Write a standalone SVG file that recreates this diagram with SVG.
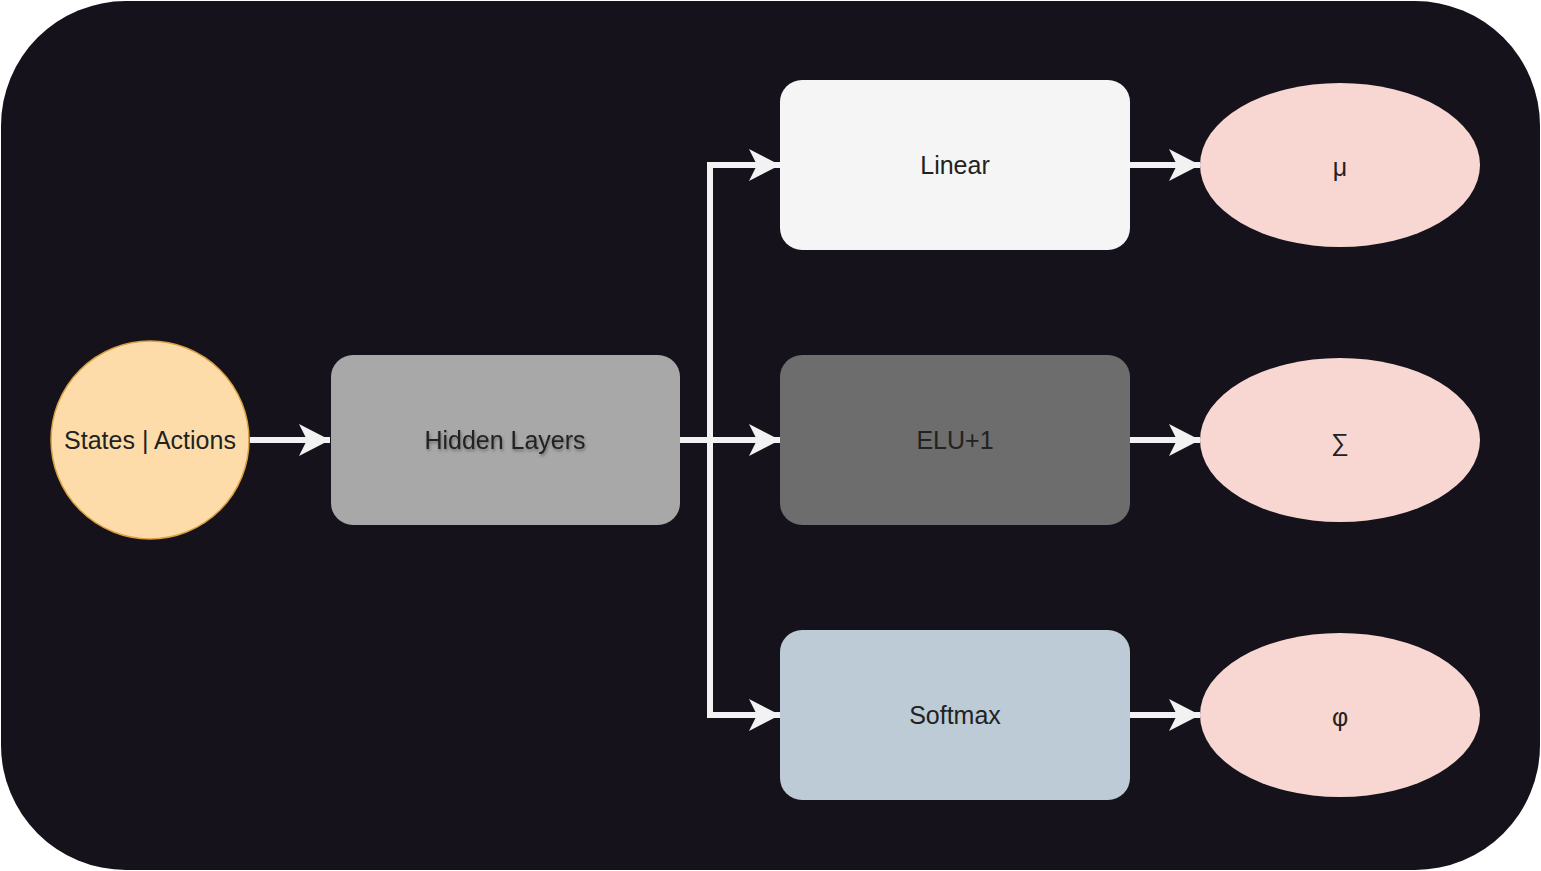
<svg xmlns="http://www.w3.org/2000/svg" width="1541" height="871" viewBox="0 0 1541 871">
<style>
text{font-family:"Liberation Sans",Arial,sans-serif;font-size:25px;text-anchor:middle;dominant-baseline:central;fill:#222}
.edge{fill:none;stroke:#f2f2f2;stroke-width:6}
.out{fill:#f8d7d3}
</style>
<defs>
<marker id="arr" markerUnits="userSpaceOnUse" markerWidth="32" markerHeight="36" refX="31" refY="18" orient="auto">
<path d="M0,2 L31,18 L0,34 L8,18 Z" fill="#f2f2f2"/>
</marker>
<filter id="sh" x="-10%" y="-20%" width="120%" height="160%">
<feDropShadow dx="1" dy="2" stdDeviation="1.5" flood-color="#000" flood-opacity="0.35"/>
</filter>
</defs>
<rect x="1" y="1" width="1539" height="869" rx="125" ry="125" fill="#15121b"/>
<g id="connectors">
<path class="edge" d="M250,440 H330" marker-end="url(#arr)"/>
<path class="edge" d="M680,440 H780" marker-end="url(#arr)"/>
<path class="edge" d="M710,440 V165 H780" marker-end="url(#arr)"/>
<path class="edge" d="M710,440 V715 H780" marker-end="url(#arr)"/>
<path class="edge" d="M1130,165 H1200" marker-end="url(#arr)"/>
<path class="edge" d="M1130,440 H1200" marker-end="url(#arr)"/>
<path class="edge" d="M1130,715 H1200" marker-end="url(#arr)"/>
</g>
<g id="states">
<circle cx="150" cy="440" r="99" fill="#fddcaa" stroke="#d9a040" stroke-width="1.5"/>
<text x="150" y="440" fill="#3a2e1e">States | Actions</text>
</g>
<g id="hidden">
<rect x="331" y="355" width="349" height="170" rx="22" fill="#a8a8a8"/>
<text x="505" y="440" fill="#3a3a3a" filter="url(#sh)">Hidden Layers</text>
</g>
<g id="linear">
<rect x="780" y="80" width="350" height="170" rx="22" fill="#f5f5f5"/>
<text x="955" y="165" fill="#333">Linear</text>
</g>
<g id="elu">
<rect x="780" y="355" width="350" height="170" rx="22" fill="#6d6d6d"/>
<text x="955" y="440" fill="#0d0d0d">ELU+1</text>
</g>
<g id="softmax">
<rect x="780" y="630" width="350" height="170" rx="22" fill="#bccbd6"/>
<text x="955" y="715" fill="#1a1a1a">Softmax</text>
</g>
<g id="mu">
<ellipse class="out" cx="1340" cy="165" rx="140" ry="82"/>
<text x="1340" y="167" font-size="22">μ</text>
</g>
<g id="sigma">
<ellipse class="out" cx="1340" cy="440" rx="140" ry="82"/>
<text x="1340" y="442">∑</text>
</g>
<g id="phi">
<ellipse class="out" cx="1340" cy="715" rx="140" ry="82"/>
<text x="1340" y="717" font-size="22">φ</text>
</g>
</svg>
